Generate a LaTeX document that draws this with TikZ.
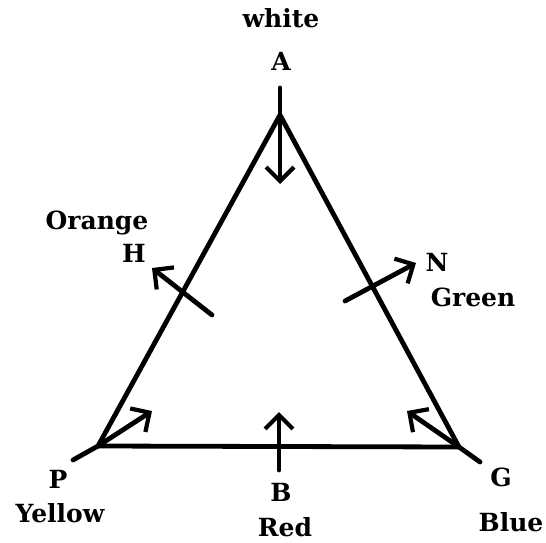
\documentclass[tikz,border=0pt]{standalone}
\usepackage{fontspec}
\setmainfont{DejaVu Serif}
\usetikzlibrary{arrows.meta}
\begin{document}
\begin{tikzpicture}[x=1pt,y=-1pt,
  ln/.style={line width=4.8pt,line cap=round,line join=round},
  ar/.style={ln,-{Straight Barb[length=14pt,width=28pt,line width=4.2pt]}},
  lbl/.style={font=\bfseries\fontsize{25}{28}\selectfont,inner sep=0pt}]
\useasboundingbox (0,0) rectangle (546,543);
% corners
\coordinate (A) at (280,115);
\coordinate (P) at (98,446);
\coordinate (G) at (459,447);
% extension ends
\coordinate (Atop) at (280,88);
\coordinate (Aarr) at (280,184);
\coordinate (Pext) at (73,460);
\coordinate (Parr) at (152,411);
\coordinate (Bbot) at (279,470);
\coordinate (Barr) at (279,412);
\coordinate (Gext) at (480,462);
\coordinate (Garr) at (407,411);
\coordinate (Hs) at (212,315);
\coordinate (Harr) at (152,268);
\coordinate (Ns) at (345,301);
\coordinate (Narr) at (416,263);
% triangle
\draw[ln] (A) -- (P) -- (G) -- cycle;
\draw[ln] (Atop) -- (A);
\draw[ln] (P) -- (Pext);
\draw[ln] (G) -- (Gext);
% arrows
\draw[ar] (A) -- (Aarr);
\draw[ar] (P) -- (Parr);
\draw[ar] (Bbot) -- (Barr);
\draw[ar] (G) -- (Garr);
\draw[ar] (Hs) -- (Harr);
\draw[ar] (Ns) -- (Narr);
% labels
\node[lbl] (tw) at (281,18) {white};
\node[lbl] (tA) at (281,61) {A};
\node[lbl] (tor) at (97,223) {Orange};
\node[lbl] (tH) at (134,253) {H};
\node[lbl] (tN) at (437,262) {N};
\node[lbl] (tgr) at (473,297) {Green};
\node[lbl] (tP) at (58,479) {P};
\node[lbl] (ty) at (60,513) {Yellow};
\node[lbl] (tB) at (281,492) {B};
\node[lbl] (tr) at (285,527) {Red};
\node[lbl] (tG) at (501,477) {G};
\node[lbl] (tbl) at (511,522) {Blue};
\end{tikzpicture}
\end{document}
